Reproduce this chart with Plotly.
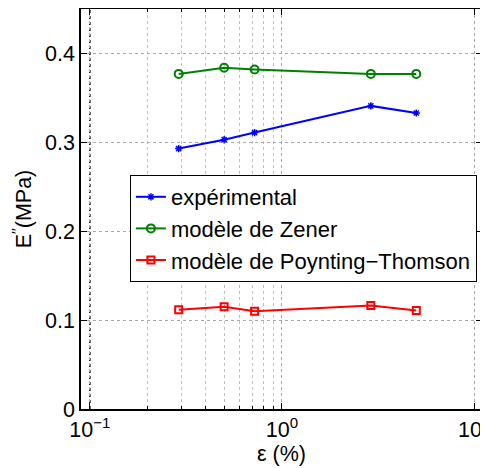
import plotly.graph_objects as go

strain = [0.29, 0.5, 0.72, 2.9, 5.0]
experimental = [0.293, 0.303, 0.311, 0.341, 0.333]
zener = [0.377, 0.384, 0.382, 0.377, 0.377]
poynting = [0.1116, 0.115, 0.110, 0.1164, 0.1108]

x_tickvals = [0.1, 1, 10]
x_ticktext = ["10<sup>−1</sup>", "10<sup>0</sup>", "10<sup>1</sup>"]
x_minor = [0.2, 0.3, 0.4, 0.5, 0.6, 0.7, 0.8, 0.9]
y_tickvals = [0, 0.1, 0.2, 0.3, 0.4]
y_ticktext = ["0", "0.1", "0.2", "0.3", "0.4"]

FONT = "Liberation Sans, Arial, sans-serif"
FS = 21.5

fig = go.Figure()
fig.add_trace(go.Scatter(x=strain, y=experimental, mode="lines+markers",
                         name="expérimental",
                         line=dict(color="#0000ff", width=2),
                         marker=dict(symbol="asterisk-open", size=6,
                                     line=dict(color="#0000ff", width=1.5))))
fig.add_trace(go.Scatter(x=strain, y=zener, mode="lines+markers",
                         name="modèle de Zener",
                         line=dict(color="#008000", width=2),
                         marker=dict(symbol="circle-open", size=8,
                                     line=dict(color="#008000", width=2))))
fig.add_trace(go.Scatter(x=strain, y=poynting, mode="lines+markers",
                         name="modèle de Poynting−Thomson",
                         line=dict(color="#ff0000", width=2),
                         marker=dict(symbol="square-open", size=7,
                                     line=dict(color="#ff0000", width=2))))

fig.add_shape(type="line", xref="x", yref="paper", x0=0.1, x1=0.1, y0=0, y1=1,
              line=dict(color="black", width=1.5, dash="dot"), layer="below")

fig.update_xaxes(type="log", range=[-1.046, 1.041], automargin=False,
                 tickvals=x_tickvals, ticktext=x_ticktext, ticklabeloverflow="allow",
                 showline=True, linecolor="black", linewidth=1.5, mirror="ticks",
                 ticks="inside", ticklen=6, tickcolor="black",
                 showgrid=True, gridcolor="#a8a8a8", griddash="dot", gridwidth=1,
                 minor=dict(tickvals=x_minor, ticks="inside", ticklen=3,
                            tickcolor="black", showgrid=True,
                            gridcolor="#c0c0c0", griddash="dot", gridwidth=1),
                 zeroline=False,
                 title=dict(text="ε (%)", font=dict(size=FS, family=FONT, color="black"),
                            standoff=2),
                 tickfont=dict(size=FS, family=FONT, color="black"))
fig.update_yaxes(range=[0, 0.45], tickvals=y_tickvals, ticktext=y_ticktext,
                 automargin=False,
                 showline=True, linecolor="black", linewidth=1.5, mirror="ticks",
                 ticks="inside", ticklen=6, tickcolor="black",
                 showgrid=True, gridcolor="#a8a8a8", griddash="dot", gridwidth=1,
                 zeroline=False,
                 title=dict(text="E<sup>′′</sup>(MPa)", font=dict(size=FS, family=FONT, color="black"),
                            standoff=8),
                 tickfont=dict(size=FS, family=FONT, color="black"))

# page body has an 8px default margin, so the figure is sized/offset accordingly
fig.update_layout(
    width=480, height=460,
    margin=dict(l=73, r=6, t=1, b=59),
    paper_bgcolor="white", plot_bgcolor="white",
    font=dict(family=FONT, color="black"),
    legend=dict(x=0.122, y=0.585, xanchor="left", yanchor="top",
                bgcolor="white", bordercolor="black", borderwidth=1,
                font=dict(size=22, family=FONT, color="black"),
                itemwidth=30, tracegroupgap=0),
)

fig.write_html("out.html")
